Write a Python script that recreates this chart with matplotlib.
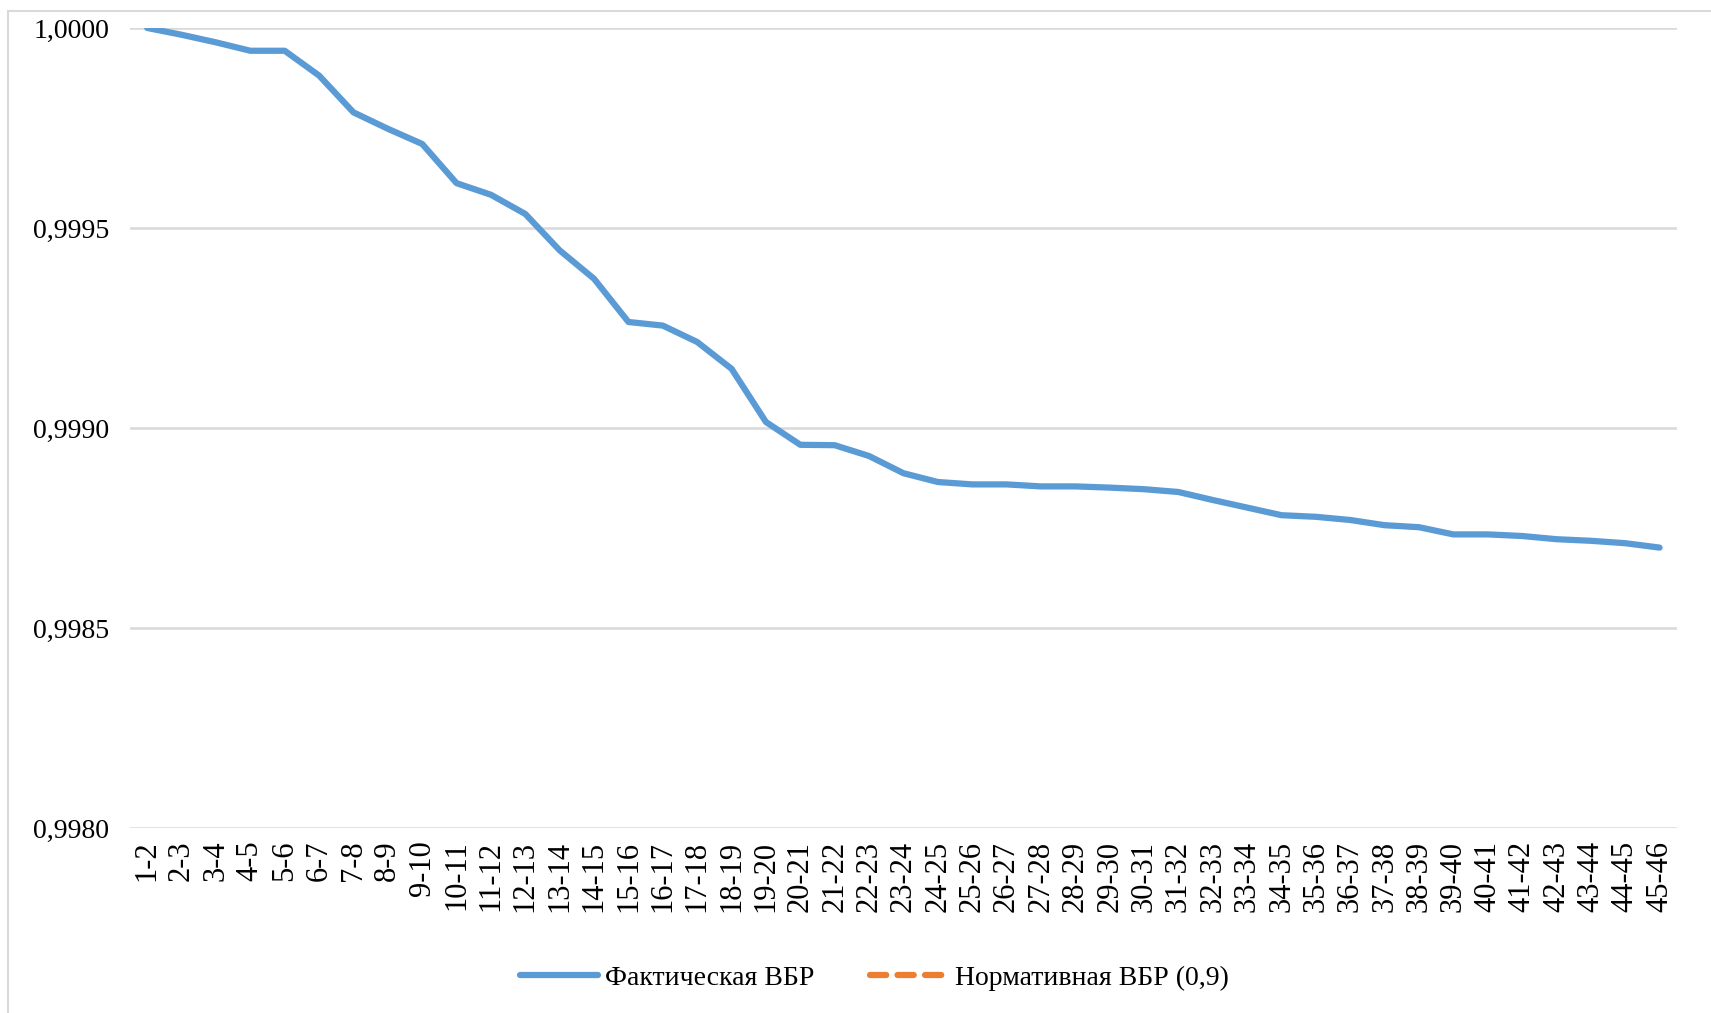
import matplotlib
matplotlib.use("Agg")
import matplotlib.pyplot as plt
from matplotlib.patches import Rectangle

# Интервалы
intervals = [f"{i}-{i + 1}" for i in range(1, 46)]

# Фактическая ВБР
fact = [
    1.000000, 0.999983, 0.999964, 0.999943, 0.999943, 0.999881, 0.999789,
    0.999748, 0.999710, 0.999612, 0.999583, 0.999535, 0.999444, 0.999373,
    0.999265, 0.999256, 0.999215, 0.999148, 0.999015, 0.998958, 0.998957,
    0.998930, 0.998887, 0.998865, 0.998859, 0.998859, 0.998854, 0.998854,
    0.998851, 0.998847, 0.998840, 0.998820, 0.998801, 0.998782, 0.998778,
    0.998770, 0.998757, 0.998752, 0.998734, 0.998734, 0.998730, 0.998722,
    0.998718, 0.998712, 0.998701,
]

# Нормативная ВБР
norm_level = 0.9
norm = [norm_level] * len(intervals)

y_ticks = [0.9980, 0.9985, 0.9990, 0.9995, 1.0000]

plt.rcParams["font.family"] = ["Liberation Serif", "DejaVu Serif"]

fig = plt.figure(figsize=(17.11, 10.13), dpi=100)
ax = fig.add_axes([0.076, 0.1826, 0.904, 0.7898])

x = range(len(intervals))
ax.plot(x, fact, color="#5B9BD5", lw=4.5, solid_capstyle="round",
        label="Фактическая ВБР")
ax.plot(x, norm, color="#ED7D31", lw=4.5, dashes=(2.6, 1.8),
        dash_capstyle="round", label="Нормативная ВБР (0,9)")

ax.set_xlim(-0.5, len(intervals) - 0.5)
ax.set_ylim(0.9980, 1.0000)
ax.set_yticks(y_ticks)
ax.set_yticklabels([f"{v:.4f}".replace(".", ",") for v in y_ticks], fontsize=20)
ax.set_xticks(list(x))
ax.set_xticklabels(intervals, rotation=90, fontsize=22)
ax.tick_params(axis="y", length=0, pad=15)
ax.tick_params(axis="x", length=0, pad=9)

ax.grid(axis="y", color="#D9D9D9", lw=1.8)
ax.set_axisbelow(True)
for s in ax.spines.values():
    s.set_visible(False)

fig.legend(loc="center", bbox_to_anchor=(0.511, 0.0345), ncol=2, frameon=False,
           fontsize=20, handlelength=2.8, handletextpad=0.25, columnspacing=2.0)

# рамка области диаграммы
fig.patches.append(Rectangle((8 / 1711, -0.05), 1.1, 1.05 - 11 / 1013,
                             transform=fig.transFigure, fill=False,
                             edgecolor="#D9D9D9", lw=1.5))

fig.savefig("out.png", dpi=100)
